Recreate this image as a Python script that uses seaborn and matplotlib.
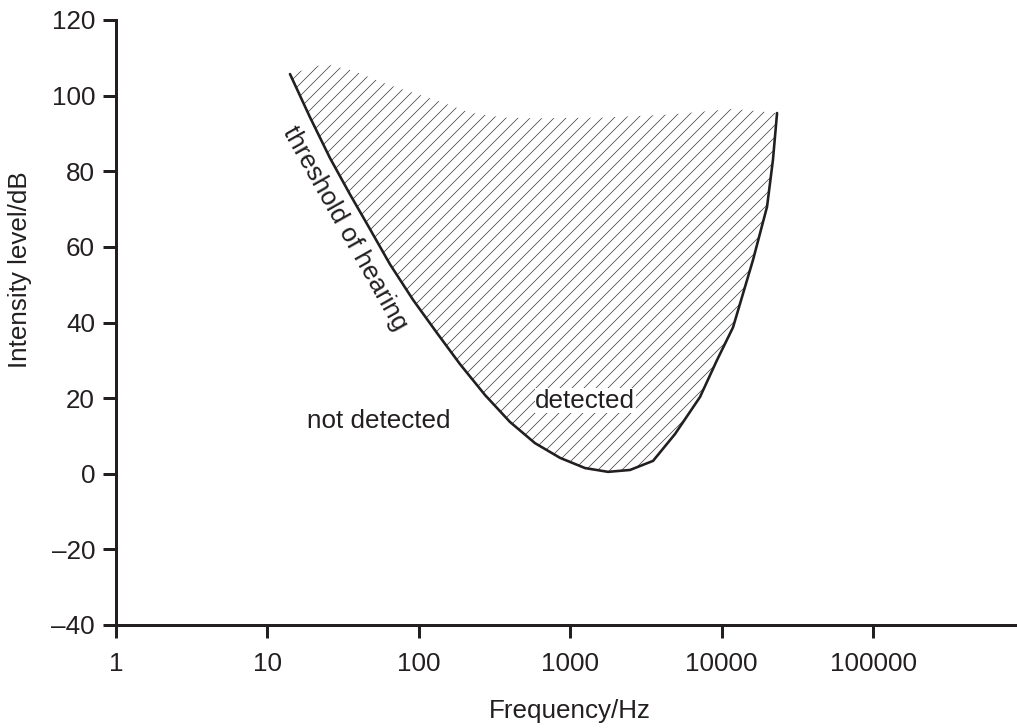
import numpy as np
import pandas as pd
import matplotlib
matplotlib.use('Agg')
import matplotlib.pyplot as plt
import seaborn as sns

# threshold of hearing curve
freq_hz = [14.1, 19.1, 25.9, 35.1, 47.6, 64.5, 91.6, 132, 187, 274, 400, 585, 857,
           1253, 1778, 2483, 3524, 4922, 7200, 9310, 11890, 16110, 19950, 21830, 23240]
threshold_db = [105.7, 94.3, 83.5, 73.9, 64.7, 55.4, 46.0, 37.2, 29.0, 20.8, 13.7, 8.1, 4.2,
                1.5, 0.5, 1.0, 3.4, 10.5, 20.3, 30.0, 38.7, 56.5, 70.6, 83.0, 95.4]

# upper edge of the hatched region, right to left
top_freq_hz = [11900, 4570, 1650, 600, 360, 218, 132, 61.6, 36.7, 24]
top_db = [96.5, 95.0, 94.2, 94.0, 94.2, 95.5, 98.7, 103.0, 106.6, 108.4]

x_ticks = [1, 10, 100, 1000, 10000, 100000]
x_tick_labels = ['1', '10', '100', '1000', '10000', '100000']
y_ticks = [-40, -20, 0, 20, 40, 60, 80, 100, 120]
y_tick_labels = ['\u201340', '\u201320', '0', '20', '40', '60', '80', '100', '120']

ink = '#231f20'
fs = 26

sns.set_style('ticks')
plt.rcParams['font.family'] = ['Liberation Sans', 'DejaVu Sans']
plt.rcParams['hatch.linewidth'] = 0.7

fig = plt.figure(figsize=(1017 / 72, 728 / 72), dpi=72)
ax = fig.add_axes([116 / 1017, 103 / 728, 901 / 1017, 605 / 728])

df = pd.DataFrame({'freq': freq_hz, 'db': threshold_db})

# hatched "detected" region
poly_x = freq_hz + top_freq_hz
poly_y = threshold_db + top_db
ax.fill(poly_x, poly_y, facecolor='none', edgecolor='#3a3a3a', hatch='//', linewidth=0, zorder=1)

sns.lineplot(data=df, x='freq', y='db', sort=False, color=ink, linewidth=2.6, ax=ax, zorder=3)

ax.set_xscale('log')
ax.set_xlim(1, 10 ** 5.951)
ax.set_ylim(-40, 120)
ax.set_xticks(x_ticks)
ax.set_xticklabels(x_tick_labels)
ax.set_yticks(y_ticks)
ax.set_yticklabels(y_tick_labels)
ax.minorticks_off()

sns.despine(ax=ax)
for s in ['left', 'bottom']:
    ax.spines[s].set_linewidth(3)
    ax.spines[s].set_color(ink)
ax.tick_params(axis='both', direction='out', length=13, width=3, color=ink,
               labelsize=fs, labelcolor=ink)
ax.tick_params(axis='y', pad=8)
ax.tick_params(axis='x', pad=14)

ax.set_xlabel('Frequency/Hz', fontsize=fs, color=ink)
ax.set_ylabel('Intensity level/dB', fontsize=fs, color=ink)
ax.xaxis.set_label_coords(0.504, -0.123)
ax.yaxis.set_label_coords(-0.093, 0.587)

ax.text(32.6, 64.8, 'threshold of hearing', rotation=-60.6, rotation_mode='anchor',
        ha='center', va='center', fontsize=fs, color=ink)
ax.text(54.6, 14.0, 'not detected', ha='center', va='center', fontsize=fs, color=ink)
ax.text(1253, 19.3, 'detected', ha='center', va='center', fontsize=fs, color=ink, zorder=2,
        bbox=dict(facecolor='white', edgecolor='none', pad=0.5))

fig.savefig('out.png', dpi=72)
